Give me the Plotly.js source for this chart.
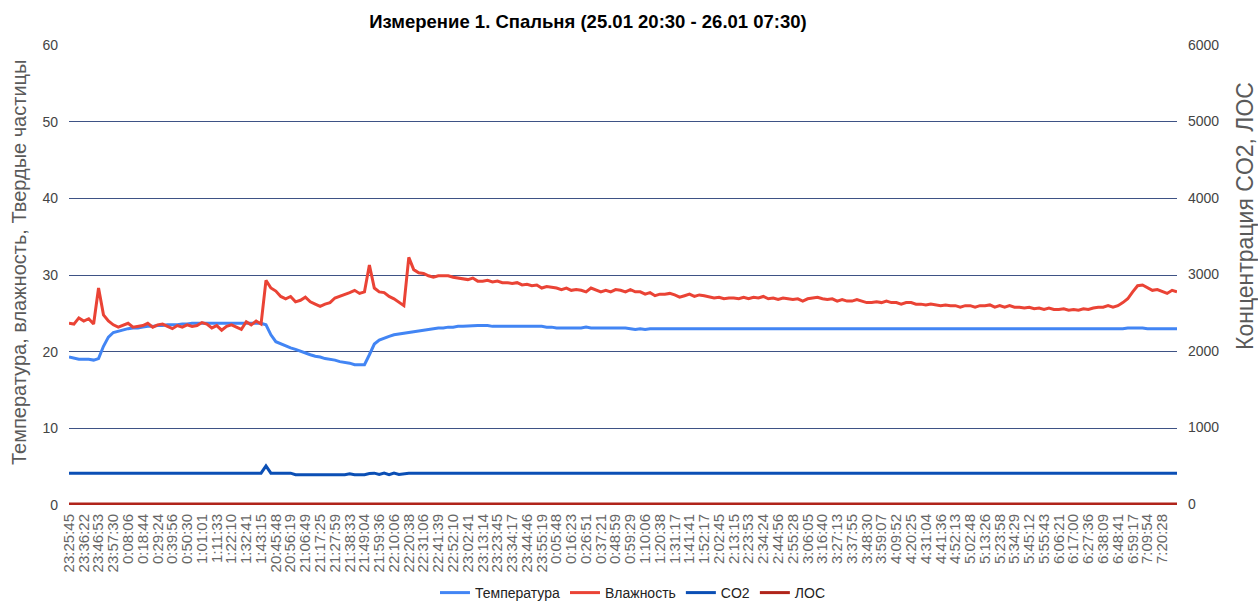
<!DOCTYPE html>
<html>
<head>
<meta charset="utf-8">
<script src="https://cdn.plot.ly/plotly-3.0.1.min.js"></script>
<style>html,body{margin:0;padding:0;background:#fff;}#chart{width:1258px;height:603px;}</style>
</head>
<body>
<div id="chart"></div>
<script>
// X tick labels (time of measurement), one every SAMPLES_PER_LABEL samples
const timeLabels = [
  "23:25:45","23:36:22","23:46:53","23:57:30","0:08:06","0:18:44","0:29:24","0:39:56","0:50:30","1:01:01",
  "1:11:33","1:22:10","1:32:41","1:43:15","20:45:48","20:56:19","21:06:49","21:17:25","21:27:59","21:38:33",
  "21:49:04","21:59:36","22:10:06","22:20:38","22:31:06","22:41:39","22:52:10","23:02:41","23:13:14","23:23:45",
  "23:34:17","23:44:46","23:55:19","0:05:48","0:16:23","0:26:51","0:37:21","0:48:59","0:59:29","1:10:06",
  "1:20:38","1:31:17","1:41:41","1:52:17","2:02:45","2:13:15","2:23:53","2:34:24","2:44:56","2:55:28",
  "3:06:05","3:16:40","3:27:13","3:37:55","3:48:30","3:59:07","4:09:52","4:20:25","4:31:04","4:41:36",
  "4:52:13","5:02:48","5:13:26","5:23:58","5:34:29","5:45:12","5:55:43","6:06:21","6:17:00","6:27:36",
  "6:38:09","6:48:41","6:59:17","7:09:54","7:20:28"
];
const SAMPLES_PER_LABEL = 3;

// Температура (left axis)
const temperature = [
  19.3,19.1,19.0,19.0,19.0,18.9,19.1,20.7,21.9,22.5,
  22.7,22.8,23.0,23.1,23.1,23.2,23.3,23.3,23.4,23.4,
  23.5,23.5,23.5,23.6,23.6,23.7,23.7,23.7,23.7,23.7,
  23.7,23.7,23.7,23.7,23.7,23.7,23.7,23.7,23.7,23.7,
  23.5,22.2,21.3,21.0,20.8,20.5,20.3,20.1,19.9,19.6,
  19.4,19.3,19.1,19.0,18.9,18.7,18.6,18.5,18.3,18.3,
  18.3,19.6,21.0,21.5,21.8,22.0,22.2,22.3,22.4,22.5,
  22.6,22.7,22.8,22.9,23.0,23.1,23.1,23.2,23.2,23.3,
  23.3,23.35,23.4,23.4,23.4,23.4,23.3,23.3,23.3,23.3,
  23.3,23.3,23.3,23.3,23.3,23.3,23.3,23.2,23.2,23.1,
  23.1,23.1,23.1,23.1,23.1,23.2,23.1,23.1,23.1,23.1,
  23.1,23.1,23.1,23.1,23.0,22.9,23.0,22.9,23.0,23.0,
  23.0,23.0,23.0,23.0,23.0,23.0,23.0,23.0,23.0,23.0,
  23.0,23.0,23.0,23.0,23.0,23.0,23.0,23.0,23.0,23.0,
  23.0,23.0,23.0,23.0,23.0,23.0,23.0,23.0,23.0,23.0,
  23.0,23.0,23.0,23.0,23.0,23.0,23.0,23.0,23.0,23.0,
  23.0,23.0,23.0,23.0,23.0,23.0,23.0,23.0,23.0,23.0,
  23.0,23.0,23.0,23.0,23.0,23.0,23.0,23.0,23.0,23.0,
  23.0,23.0,23.0,23.0,23.0,23.0,23.0,23.0,23.0,23.0,
  23.0,23.0,23.0,23.0,23.0,23.0,23.0,23.0,23.0,23.0,
  23.0,23.0,23.0,23.0,23.0,23.0,23.0,23.0,23.0,23.0,
  23.0,23.0,23.0,23.0,23.0,23.1,23.1,23.1,23.1,23.0,
  23.0,23.0,23.0,23.0,23.0,23.0
];

// Влажность (left axis)
const humidity = [
  23.7,23.6,24.4,24.0,24.3,23.6,28.3,24.8,24.0,23.5,
  23.2,23.4,23.7,23.2,23.3,23.4,23.7,23.2,23.5,23.6,
  23.3,23.0,23.4,23.2,23.5,23.3,23.4,23.8,23.6,23.1,
  23.4,22.8,23.3,23.5,23.2,22.9,23.9,23.5,24.0,23.6,
  29.3,28.3,27.9,27.2,26.9,27.2,26.5,26.7,27.1,26.5,
  26.2,25.9,26.2,26.4,27.0,27.2,27.4,27.7,28.0,27.6,
  27.8,31.3,28.3,27.8,27.7,27.2,26.9,26.4,26.0,32.3,
  30.7,30.3,30.2,29.9,29.7,29.9,29.9,29.9,29.7,29.6,
  29.5,29.4,29.6,29.2,29.2,29.3,29.1,29.2,29.0,29.0,
  28.9,29.0,28.7,28.8,28.6,28.7,28.3,28.5,28.4,28.3,
  28.1,28.3,28.0,28.1,28.0,27.8,28.3,28.1,27.8,28.0,
  27.8,28.1,28.0,27.8,28.1,27.8,27.8,27.5,27.7,27.3,
  27.5,27.5,27.6,27.4,27.1,27.3,27.5,27.2,27.4,27.3,
  27.1,27.0,27.1,26.9,27.0,27.0,26.9,27.1,26.9,27.1,
  27.0,27.2,26.9,27.0,26.8,27.0,26.9,26.8,26.9,26.6,
  26.9,27.0,27.1,26.9,26.8,26.9,26.6,26.8,26.6,26.6,
  26.8,26.6,26.4,26.4,26.5,26.4,26.6,26.4,26.4,26.2,
  26.4,26.4,26.2,26.2,26.1,26.2,26.1,26.0,26.1,26.0,
  26.0,25.8,26.0,26.0,25.8,26.0,26.0,26.1,25.8,26.0,
  25.8,26.0,25.8,25.8,25.7,25.8,25.6,25.7,25.5,25.7,
  25.5,25.5,25.6,25.4,25.5,25.4,25.6,25.5,25.7,25.8,
  25.8,26.0,25.8,26.0,26.4,26.9,27.8,28.6,28.7,28.3,
  28.0,28.1,27.8,27.6,28.0,27.8
];

// CO2 (right axis)
const co2 = [
  404,404,404,404,404,404,404,404,404,404,404,404,404,404,404,404,404,404,404,404,
  404,404,404,404,404,404,404,404,404,404,404,404,404,404,404,404,404,404,404,404,
  500,404,404,404,404,404,383,383,383,383,383,383,383,383,383,383,383,395,383,383,
  383,400,404,386,404,385,404,386,400,404,404,404,404,404,404,404,404,404,404,404,
  404,404,404,404,404,404,404,404,404,404,404,404,404,404,404,404,404,404,404,404,
  404,404,404,404,404,404,404,404,404,404,404,404,404,404,404,404,404,404,404,404,
  404,404,404,404,404,404,404,404,404,404,404,404,404,404,404,404,404,404,404,404,
  404,404,404,404,404,404,404,404,404,404,404,404,404,404,404,404,404,404,404,404,
  404,404,404,404,404,404,404,404,404,404,404,404,404,404,404,404,404,404,404,404,
  404,404,404,404,404,404,404,404,404,404,404,404,404,404,404,404,404,404,404,404,
  404,404,404,404,404,404,404,404,404,404,404,404,404,404,404,404,404,404,404,404,
  404,404,404,404,404,404
];

// ЛОС (right axis)
const voc = [
  0,0,0,0,0,0,0,0,0,0,0,0,0,0,0,0,0,0,0,0,
  0,0,0,0,0,0,0,0,0,0,0,0,0,0,0,0,0,0,0,0,
  0,0,0,0,0,0,0,0,0,0,0,0,0,0,0,0,0,0,0,0,
  0,0,0,0,0,0,0,0,0,0,0,0,0,0,0,0,0,0,0,0,
  0,0,0,0,0,0,0,0,0,0,0,0,0,0,0,0,0,0,0,0,
  0,0,0,0,0,0,0,0,0,0,0,0,0,0,0,0,0,0,0,0,
  0,0,0,0,0,0,0,0,0,0,0,0,0,0,0,0,0,0,0,0,
  0,0,0,0,0,0,0,0,0,0,0,0,0,0,0,0,0,0,0,0,
  0,0,0,0,0,0,0,0,0,0,0,0,0,0,0,0,0,0,0,0,
  0,0,0,0,0,0,0,0,0,0,0,0,0,0,0,0,0,0,0,0,
  0,0,0,0,0,0,0,0,0,0,0,0,0,0,0,0,0,0,0,0,
  0,0,0,0,0,0
];

const seriesNames = ["Температура", "Влажность", "CO2", "ЛОС"];
const seriesColors = ["#4285f4", "#ea4335", "#0b4fb5", "#b0241a"];

const sampleIndex = temperature.map((_, i) => i);
const tickVals = timeLabels.map((_, i) => i * SAMPLES_PER_LABEL);

const FONT = "Arial, 'Liberation Sans', sans-serif";

const mk = (y, i, axis) => ({
  x: sampleIndex, y: y, name: seriesNames[i], type: "scatter", mode: "lines",
  yaxis: axis, line: {color: seriesColors[i], width: 3}, hoverinfo: "x+y+name"
});

const data = [
  mk(temperature, 0, "y"),
  mk(humidity, 1, "y"),
  mk(co2, 2, "y2"),
  mk(voc, 3, "y2")
];

const layout = {
  width: 1258, height: 603,
  margin: {l: 69, r: 81, t: 45, b: 98, pad: 0},
  paper_bgcolor: "#fff", plot_bgcolor: "#fff",
  font: {family: FONT, color: "#444"},
  title: {
    text: "Измерение 1. Спальня (25.01 20:30 - 26.01 07:30)",
    font: {family: FONT, size: 18.5, color: "#000", weight: "bold"},
    x: 588 / 1258, xref: "container", xanchor: "center",
    y: 1 - 22 / 603, yref: "container", yanchor: "middle"
  },
  xaxis: {
    range: [0, sampleIndex.length - 1], automargin: false,
    tickmode: "array", tickvals: tickVals, ticktext: timeLabels,
    tickangle: -90, tickfont: {family: FONT, size: 15, color: "#666"},
    showgrid: false, zeroline: false, showline: false, ticks: "",
    ticklabelstandoff: 5
  },
  yaxis: {
    range: [0, 60], tick0: 0, dtick: 10, automargin: false,
    gridcolor: "#3e5285", gridwidth: 1, zeroline: false, showline: false, ticks: "",
    tickfont: {family: FONT, size: 14, color: "#444"}, ticklabelstandoff: 10
  },
  yaxis2: {
    overlaying: "y", side: "right", automargin: false,
    range: [-12, 6000], tick0: 0, dtick: 1000,
    showgrid: false, zeroline: false, showline: false, ticks: "",
    tickfont: {family: FONT, size: 14, color: "#444"}, ticklabelstandoff: 10
  },
  showlegend: true,
  legend: {
    orientation: "h", x: 0.509, xanchor: "center",
    yref: "container", y: 1 - 593 / 603, yanchor: "middle",
    font: {family: FONT, size: 14, color: "#222"}, bgcolor: "rgba(0,0,0,0)"
  },
  annotations: [
    {
      text: "Температура, влажность, Твердые частицы", textangle: -90,
      xref: "paper", yref: "paper", x: (19 - 69) / 1108, y: (505 - 263) / 460,
      xanchor: "center", yanchor: "middle", showarrow: false,
      font: {family: FONT, size: 20, color: "#5a5a5a"}
    },
    {
      text: "Концентрация CO2, ЛОС", textangle: -90,
      xref: "paper", yref: "paper", x: (1245 - 69) / 1108, y: (505 - 216) / 460,
      xanchor: "center", yanchor: "middle", showarrow: false,
      font: {family: FONT, size: 23, color: "#5a5a5a"}
    }
  ]
};

Plotly.newPlot("chart", data, layout, {displayModeBar: false, staticPlot: true});
</script>
</body>
</html>
